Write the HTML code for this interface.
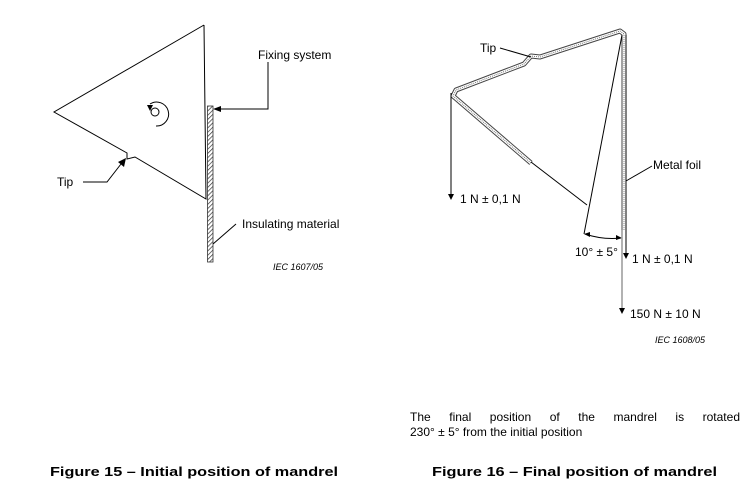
<!DOCTYPE html>
<html><head><meta charset="utf-8"><style>
html,body{margin:0;padding:0;background:#fff;width:749px;height:500px;overflow:hidden;position:relative}
svg{display:block}
text{font-family:"Liberation Sans",Arial,sans-serif;fill:#000}
.p{position:absolute;left:410px;width:330px;font-family:"Liberation Sans",Arial,sans-serif;font-size:12px;line-height:15px;color:#000}
.j{text-align:justify;text-align-last:justify}
</style></head><body>
<svg width="749" height="500" viewBox="0 0 749 500" xmlns="http://www.w3.org/2000/svg">
<defs>
<pattern id="h" width="3" height="3" patternUnits="userSpaceOnUse" patternTransform="rotate(45)">
<rect width="3" height="3" fill="#fff"/><line x1="0" y1="0" x2="0" y2="3" stroke="#333" stroke-width="1.4"/></pattern>
</defs>
<polyline points="204,25 54,112 127,153 127,159 135,157 206,199 204,25" fill="none" stroke="#000" stroke-width="1"/>
<rect x="207.5" y="106" width="5.5" height="156" fill="url(#h)" stroke="#333" stroke-width="0.8"/>
<circle cx="155" cy="112" r="4" fill="none" stroke="#000" stroke-width="1"/>
<path d="M150,104 A12,12 0 1 1 156,126" fill="none" stroke="#000" stroke-width="1"/>
<polygon points="147,105 153,105 150,111" fill="#000"/>
<text x="258" y="59" font-size="12">Fixing system</text>
<polyline points="268,62 268,109 218,109" fill="none" stroke="#000" stroke-width="1"/>
<polygon points="213,109 221,106 221,112" fill="#000"/>
<text x="57" y="186" font-size="12">Tip</text>
<polyline points="83,182 107,182 121,164" fill="none" stroke="#000" stroke-width="1"/>
<polygon points="126,158 124,167 118,162" fill="#000"/>
<text x="242" y="228" font-size="12">Insulating material</text>
<line x1="213" y1="244" x2="236" y2="224" stroke="#000" stroke-width="1"/>
<text x="273" y="270" font-size="9" font-style="italic">IEC  1607/05</text>
<g fill="none" stroke-linejoin="round">
<polyline points="531,163 453,96 456,90 524,64 531,56 540,57 620,31 624,34 624,230" stroke="#444" stroke-width="5"/>
<polyline points="531,163 453,96 456,90 524,64 531,56 540,57 620,31 624,34 624,230" stroke="#fff" stroke-width="3"/>
<polyline points="531,163 453,96 456,90 524,64 531,56 540,57 620,31 624,34 624,230" stroke="#777" stroke-width="1" stroke-dasharray="1 1"/>
</g>
<line x1="531" y1="162" x2="587" y2="205" stroke="#000" stroke-width="1"/>
<line x1="622" y1="35" x2="584" y2="234" stroke="#000" stroke-width="1"/>
<path d="M585,234 Q603,240 621,238" fill="none" stroke="#000" stroke-width="1"/>
<polygon points="584,234 590,232 590,237" fill="#000"/>
<polygon points="622,238 616,235 616,240" fill="#000"/>
<line x1="451" y1="93" x2="451" y2="194" stroke="#000" stroke-width="1"/>
<polygon points="448,194 454,194 451,200" fill="#000"/>
<text x="460" y="203" font-size="12">1 N ± 0,1 N</text>
<line x1="626" y1="35" x2="626" y2="253" stroke="#000" stroke-width="1"/>
<polygon points="623,253 629,253 626,259" fill="#000"/>
<text x="632" y="263" font-size="12">1 N ± 0,1 N</text>
<line x1="622" y1="230" x2="622" y2="308" stroke="#999" stroke-width="1.5"/>
<polygon points="619,308 625,308 622,314" fill="#000"/>
<text x="630" y="318" font-size="12">150 N ± 10 N</text>
<text x="575" y="256" font-size="12">10° ± 5°</text>
<text x="653" y="169" font-size="12">Metal foil</text>
<line x1="626" y1="181" x2="652" y2="166" stroke="#000" stroke-width="1"/>
<text x="480" y="52" font-size="12">Tip</text>
<line x1="500" y1="48" x2="531" y2="57" stroke="#000" stroke-width="1"/>
<text x="655" y="343" font-size="9" font-style="italic">IEC  1608/05</text>
<text x="50" y="476" font-size="13" font-weight="bold" textLength="288" lengthAdjust="spacingAndGlyphs">Figure 15 – Initial position of mandrel</text>
<text x="432" y="476" font-size="13" font-weight="bold" textLength="285" lengthAdjust="spacingAndGlyphs">Figure 16 – Final position of mandrel</text>
</svg>
<div class="p j" style="top:410px">The final position of the mandrel is rotated</div>
<div class="p" style="top:425px">230° ± 5° from the initial position</div>
</body></html>
